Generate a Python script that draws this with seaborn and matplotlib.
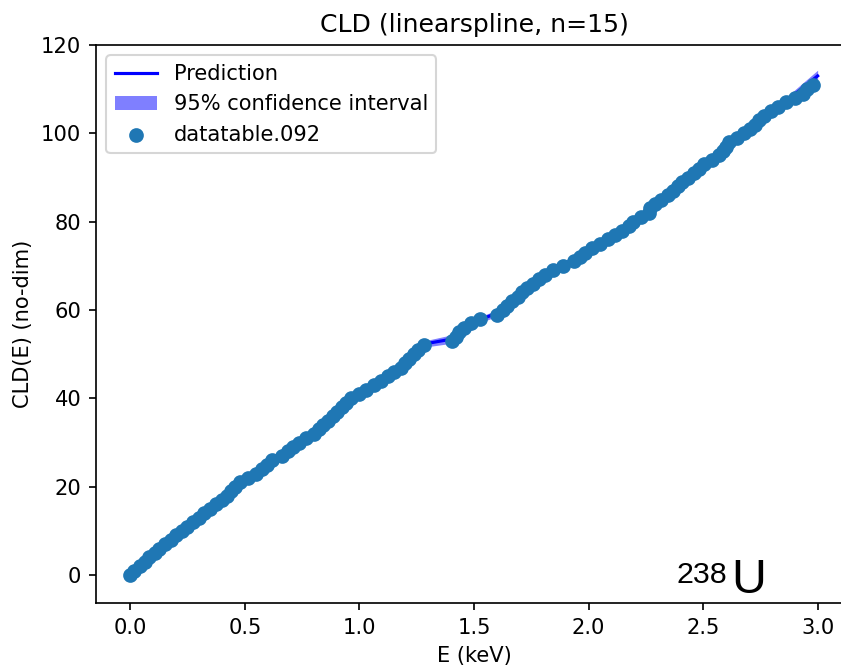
import numpy as np
import pandas as pd
import matplotlib
matplotlib.use("Agg")
import matplotlib.pyplot as plt
import seaborn as sns

# Level energies (keV) read from the staircase; CLD value = running level index
level_E = [0.000, 0.018, 0.040, 0.062, 0.083, 0.106, 0.127, 0.150, 0.176, 0.199,
           0.226, 0.249, 0.273, 0.300, 0.322, 0.349, 0.374, 0.398, 0.421, 0.439,
           0.456, 0.478, 0.515, 0.550, 0.574, 0.598, 0.620, 0.660, 0.688, 0.710,
           0.735, 0.765, 0.800, 0.823, 0.842, 0.862, 0.885, 0.903, 0.922, 0.940,
           0.962, 0.996, 1.028, 1.062, 1.095, 1.125, 1.152, 1.180, 1.200, 1.218,
           1.238, 1.255, 1.280, 1.406, 1.420, 1.436, 1.455, 1.485, 1.528, 1.600,
           1.625, 1.645, 1.668, 1.690, 1.710, 1.730, 1.756, 1.784, 1.810, 1.845,
           1.890, 1.935, 1.962, 1.985, 2.015, 2.050, 2.087, 2.115, 2.145, 2.178,
           2.193, 2.230, 2.262, 2.270, 2.290, 2.315, 2.345, 2.370, 2.392, 2.410,
           2.435, 2.460, 2.482, 2.505, 2.540, 2.570, 2.585, 2.600, 2.615, 2.650,
           2.680, 2.705, 2.725, 2.745, 2.768, 2.795, 2.825, 2.862, 2.900, 2.935,
           2.955, 2.978]
level_CLD = list(range(len(level_E)))

# Linear-spline prediction (knots) and 95% band
pred_E = [0.0, 0.2, 0.45, 0.65, 0.85, 1.0, 1.15, 1.28, 1.42, 1.53, 1.6, 1.8,
          2.0, 2.2, 2.4, 2.6, 2.8, 3.0]
pred_CLD = [0.0, 9.4, 19.6, 26.8, 34.4, 41.1, 45.9, 52.3, 53.6, 57.9, 59.3, 67.6,
            73.5, 80.3, 88.3, 97.0, 104.7, 113.0]
ci_lower = [-0.6, 8.7, 18.9, 26.1, 33.7, 40.4, 45.2, 51.6, 52.6, 57.2, 58.6, 66.9,
            72.8, 79.6, 87.6, 96.3, 104.0, 111.7]
ci_upper = [0.6, 10.1, 20.3, 27.5, 35.1, 41.8, 46.6, 53.0, 54.6, 58.6, 60.0, 68.3,
            74.2, 81.0, 89.0, 97.7, 105.4, 114.3]

W, H, DPI = 841, 667, 151
fig = plt.figure(figsize=(W / DPI, H / DPI), dpi=DPI)
# axes extend past right edge (cropped original)
ax = fig.add_axes([96 / W, (H - 603) / H, 756 / W, 558 / H])

pred_df = pd.DataFrame({"E": pred_E, "CLD": pred_CLD})
data_df = pd.DataFrame({"E": level_E, "CLD": level_CLD})

sns.lineplot(data=pred_df, x="E", y="CLD", color="blue", label="Prediction",
             ax=ax, linewidth=1.5, estimator=None, sort=False, zorder=2)
ax.fill_between(pred_E, ci_lower, ci_upper, color="blue", alpha=0.5,
                linewidth=0, label="95% confidence interval", zorder=2)
sns.scatterplot(data=data_df, x="E", y="CLD", color="#1f77b4", s=36,
                edgecolor="#1f77b4", linewidth=1, label="datatable.092", ax=ax,
                zorder=3)

for sp in ax.spines.values():
    sp.set_visible(True)
    sp.set_color("black")
    sp.set_linewidth(0.8)

ax.set_xlim(-0.15, 3.15)
ax.set_ylim(-6.3, 120)
ax.set_xticks([0.0, 0.5, 1.0, 1.5, 2.0, 2.5, 3.0])
ax.set_yticks([0, 20, 40, 60, 80, 100, 120])
ax.set_xlabel("E (keV)")
ax.set_ylabel("CLD(E) (no-dim)")
ax.set_title("CLD (linearspline, n=15)", fontsize=12)
ax.legend(loc="upper left")

fig.text(677 / W, (H - 583) / H, "238", fontsize=14.5,
         family="Liberation Sans", va="baseline", ha="left")
fig.text(731 / W, (H - 593) / H, "U", fontsize=23,
         family="Liberation Sans", va="baseline", ha="left")

fig.savefig("out.png", dpi=DPI)
